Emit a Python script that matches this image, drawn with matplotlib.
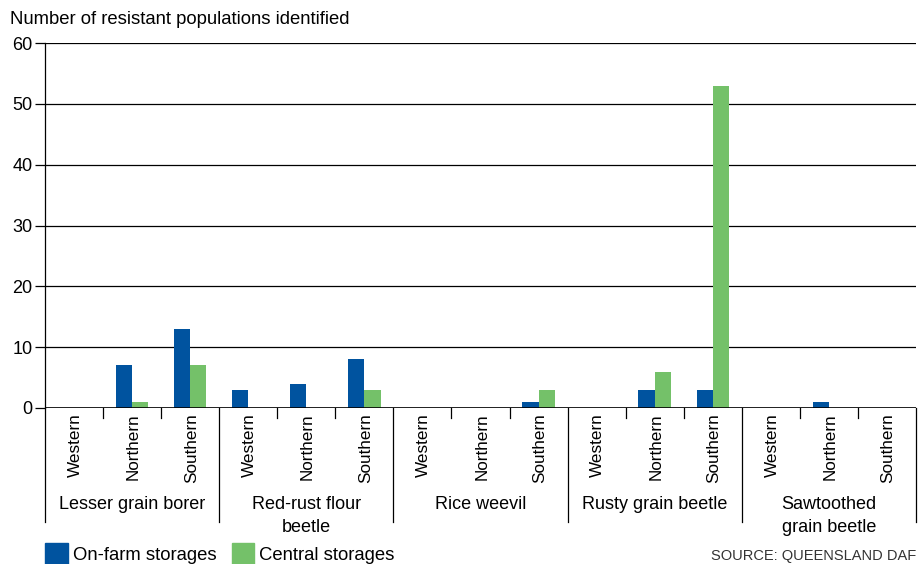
import matplotlib
matplotlib.use("Agg")
import matplotlib.pyplot as plt
from matplotlib.lines import Line2D
from matplotlib.patches import Rectangle

plt.rcParams['font.family'] = ['Liberation Sans', 'DejaVu Sans']

pests = ["Lesser grain borer", "Red-rust flour\nbeetle", "Rice weevil",
         "Rusty grain beetle", "Sawtoothed\ngrain beetle"]
regions = ["Western", "Northern", "Southern"]
on_farm = [0, 7, 13, 3, 4, 8, 0, 0, 1, 0, 3, 3, 0, 1, 0]
central = [0, 1, 7, 0, 0, 3, 0, 0, 3, 0, 6, 53, 0, 0, 0]

blue = "#00539f"
green = "#74c169"

W, H = 923, 564
fig = plt.figure(figsize=(W / 100, H / 100), dpi=100)
ax = fig.add_axes([45 / W, (H - 408) / H, (916 - 45) / W, (408 - 43) / H])
ph = 408 - 43  # axes height in px

n = len(on_farm)
x = list(range(n))
bw = 0.28
ax.bar([i - bw / 2 for i in x], on_farm, width=bw, color=blue, zorder=3)
ax.bar([i + bw / 2 for i in x], central, width=bw, color=green, zorder=3)

ax.set_xlim(-0.5, n - 0.5)
ax.set_ylim(0, 60)
ax.set_yticks(range(0, 61, 10))
ax.yaxis.grid(True, color="black", linewidth=0.9, zorder=0)
for s in ["top", "right", "bottom"]:
    ax.spines[s].set_visible(False)
ax.spines["left"].set_linewidth(0.9)
ax.axhline(0, color="black", linewidth=1.2, zorder=4)
ax.tick_params(axis="y", length=7, width=0.9, labelsize=13, pad=2)
ax.set_xticks([])

trans = ax.get_xaxis_transform()

# region labels, rotated, end of word next to the axis
for i in x:
    ax.text(i + 0.02, -5 / ph, regions[i % 3], transform=trans, rotation=90,
            rotation_mode="anchor", ha="right", va="center", fontsize=12.3)

# boundary ticks and group separators
for b in range(n + 1):
    xb = b - 0.5
    y0 = -114 / ph if b % 3 == 0 else -10 / ph
    ax.add_line(Line2D([xb, xb], [0, y0], transform=trans, color="black",
                       linewidth=0.9, clip_on=False))

for g, name in enumerate(pests):
    ax.text(g * 3 + 1, -88 / ph, name, transform=trans, ha="center", va="top",
            fontsize=13, linespacing=1.45)

fig.text(10 / W, 1 - 20 / H, "Number of resistant populations identified",
         fontsize=13.3, va="center", ha="left")

# legend
fig.patches.append(Rectangle((45 / W, 0), 23 / W, 21 / H, transform=fig.transFigure,
                             color=blue))
fig.text(73 / W, 9 / H, "On-farm storages", fontsize=13.3, va="center")
fig.patches.append(Rectangle((232 / W, 0), 22 / W, 21 / H, transform=fig.transFigure,
                             color=green))
fig.text(259 / W, 9 / H, "Central storages", fontsize=13.3, va="center")

fig.text(916 / W, 1 / H, "SOURCE: QUEENSLAND DAF", fontsize=10.5, ha="right",
         va="bottom", color="#333333")

fig.savefig("out.png", dpi=100)
